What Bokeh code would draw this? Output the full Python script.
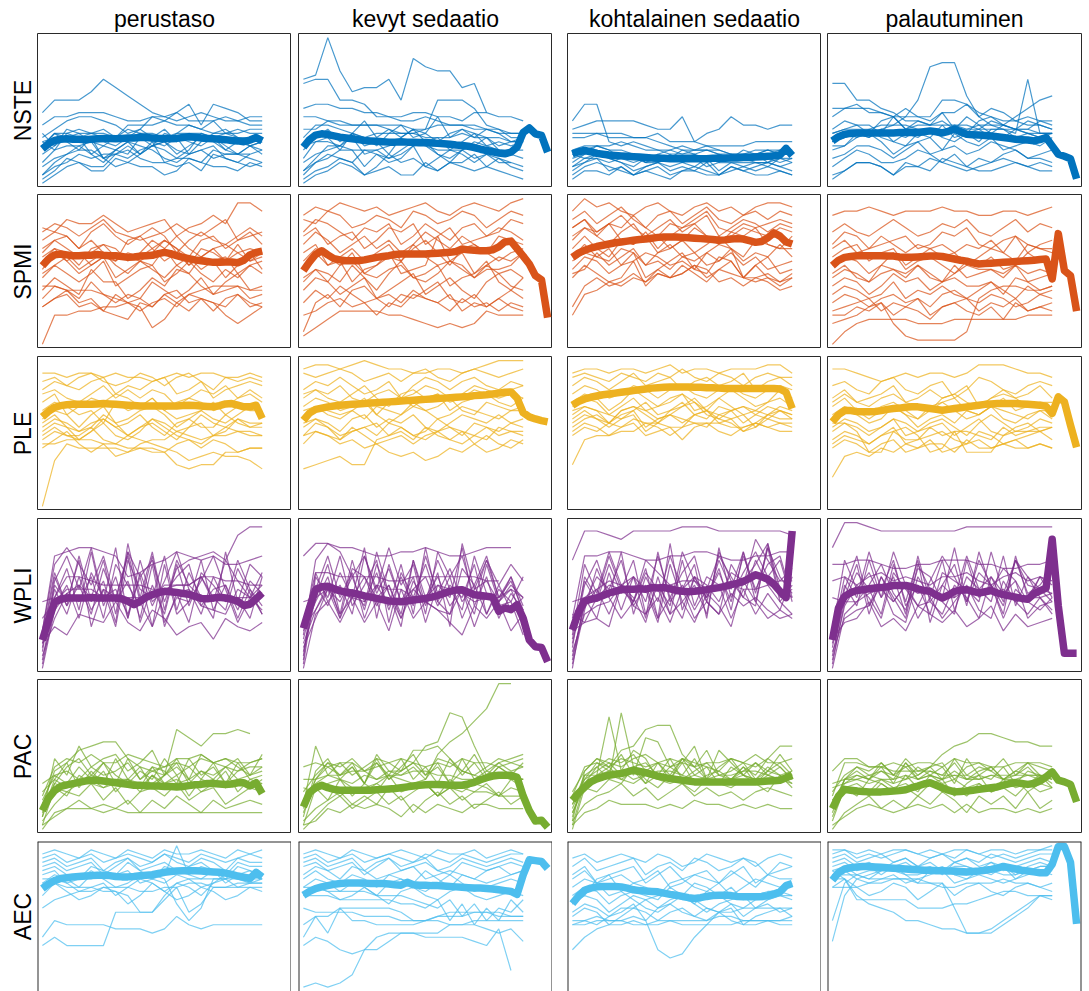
from bokeh.plotting import figure
from bokeh.layouts import gridplot
from bokeh.models import Range1d, Title, Span
from bokeh.embed import file_html
from bokeh.resources import INLINE

PHASES = ["perustaso", "kevyt sedaatio", "kohtalainen sedaatio", "palautuminen"]
MEASURES = ["NSTE", "SPMI", "PLE", "WPLI", "PAC", "AEC"]
COLORS = ["#0072BD", "#D95319", "#EDB120", "#7E2F8E", "#77AC30", "#4DBEEE"]

# Individual subject traces. One base-36 character per sample (0 = low, z = high),
# samples taken every second analysis window.
NSTE_SUBJECTS = [
    ["hkkkmpnljhgfghgffee", "egghhhgffgghjejihff", "bdfggfecdgfeedfgfgg", "9cbbaa9bcbaccbbbabb",
     "a8cb79bdca9b7acdb9a", "79bca98a79cba9b8a9a", "9ca8b6797a568cb9798", "5899a687b9a79ba8797",
     "4679758a98657896578", "1365447865545376545", "0245336544236544354", "2578864579866587765",
     "9ccdcbbaccbcedccdcc", "c9dcccbbdbdaccbccdd", "2457677689a8786777", "abbbcdbeeefhfffcbbb"],
    ["pqzrmnnpkusrrnoh", "oppkkjggffgfeeeddcc", "ijjiihhgghhggfhhggf", "beedcfbdbdcgbdcb9aa",
     "8bdacb9cebcacdbdcab", "6ab8c9a7bdab8ac9a9a", "3699b7868a97689b876", "2568847569a7586765",
     "1346524756435574643", "0235423422535434321", "ddfeeeedccdkkkiedbb", "9aa9cbccccbbbcbbbaa",
     "57898889a99888a9888", "3576587679468757554", "ggffeeeeeddeeeddccc"],
    ["fjja9a9889888777787", "deffffeddgacdgeedee", "bbcccbba98887778877", "8999a98877767677888",
     "6798675768756687577", "5786546575645767656", "4676534565463545465", "3563424534352434543",
     "2454323423432343432", "1332423213322432232", "7898875666787665566", "4577665545665555545",
     "cccbbbbcaaa9999aaaa", "7665656787898767877"],
    ["abccdegksttlgeeddcc", "ookkihffeeedddddccc", "iiiihggggkkjhgffeed", "cdddeeeddcddeedcpcc",
     "abcbdcbdcceedfegikl", "gijhhgigfhhjgihfgff", "dfeecgdfehdcfgedfed", "acbdba9cbebcaddbcba",
     "89bca79ab8ca9b89a9b", "6799868a78978a98678", "4687556875746578665", "2355425465434565454",
     "1355424436543345433", "99cbdacbdbacdbbdcbc", "cdecfgdeefdgeceddfe"],
]
SPMI_SUBJECTS = [
    ["sruttvtrstuqstvtyyw", "rtsqsurqpqrtrqsupqr", "prqnrtqoqsqmprpoqsq", "mpqnpmkpqnpnlpqnpro",
     "knmjnollkmpnjnmkokm", "imkhjlgikjnjhlkgjmi", "gjhfhkegijfhkhfigjh", "dgeciffbdgeihecfhde",
     "bedbfcacbfdbdgcdebc", "9bdab8cab9cdab8bc9a", "0778899a8ab9cba9ca9", "eedddcba946acdeeedd",
     "9bc9a876a9ca8ba7579", "hjlikmjhkigjliklhjk", "npnlmonkmpnqnlnomnm", "lnkmjlkmlnkmjlnkmkl"],
    ["vxwyxwxvwxywvxyxwyz", "utwvstvuswvtuwvsuwv", "rutrpsrtoqtrpstqrut", "orpmoqnpmorpnqomqpo",
     "mojlnkmoknpmjnomkmn", "imjkfijmhijqkjgiijm", "fihfjgdhkghjeghkfdg", "dgfcegbdfhcegdbfhed",
     "adbecab9cbdfbac9bdb", "78ab9a7a9cba8b9a8a9", "2468888776545458777", "3ac9debcadbac8a9b98",
     "gifjkhgijgfhkigjhig", "knljmhjlkoljkmhjlkm", "qsoqrnpsrtoqsopqsrp"],
    ["wzxywvxywvxywxvxyyx", "uwtvxusvwtvxutvwuwv", "suqtvsqsurtvqsutrts", "psqortpqnpsqorqsonq",
     "nqnlpoqmnpmoqnlponn", "lolknmjmolkmonkmlol", "ilkhjmgikmihlkgjlhi", "gjhfgkehgjhfikgghfh",
     "7cdfegfhghjgihgjgfg", "9egefhfighjifgegfde", "himjlnjkilmjkmjlijk", "kmlnjkmljkimkngfgeg",
     "qsrtpornqstqpqsrqsr", "surtsvsqtsuwsrtstut"],
    ["vwwxwvwwwxwwvvwwvwx", "rtrqsusqrtsurqsurts", "orqnopqnorqsonpqmop", "lnokmnjlnomjlnmkonm",
     "jlkhjmikljhkjlijmkj", "hjgfhigjhfjghihjfgh", "egfcehfgdfgeefcgfde", "cedbcfbdcecbdfdbecd",
     "acb9bcab9cdbacb9acb", "89ab8a9b79ab8a9b89a", "0356666555666666777", "5679a5211113bdeedde",
     "7798a79869a8796a898", "gihfjihjgfhjiigjhih", "npmnqomonlmonpmqonn"],
]
PLE_SUBJECTS = [
    ["wwvwwvwvvuvwvwwvvwv", "uvtvwutuwvtvwusvuvu", "sutsuvrtsuvrsuqstut", "rsqprtqsqsroqsrtqsq",
     "prmoqprqoqnpqpnoqrp", "npomnkpnoqnlmnpmonn", "lnmjmoklnomjlnlkmom", "kmjikljkmjhkljjmkjk",
     "ikjgiljhjkigjkhiljj", "0bfeeeedfggihghhiih", "gihhjgfhgfedbcdccb9", "egifdfcdeddfgegfdee",
     "hjhgikhgiljhgfhjihh", "jlkijmkhjlkijmkjlkk", "ffgggffeeeda9aaddee"],
    ["xyyxyzyxxwwxxwxyzzz", "wvwxwuvwuwxvuwxwvwx", "sutvtrsuqtvusuvtsut", "qsrtqprsqrtsqrtsrst",
     "oqpnoqmpqoqrnpqrpoq", "lonmnlonmpnoqnmpono", "jlkilmjlkmjikmlkmkl", "hkjgijhkjhiljhkjikj",
     "fihgjhfghfhigfhjhih", "9abcaaghjhgijihgjii", "hihfgefdcdbcedfdegf", "kljhijkhigjhgifhfeg",
     "nomlnpmkmonlmonmlnn", "rsqprtqorsqrpqsrqrq"],
    ["wxxwxxwxywxxwxxxyyw", "vwvuwvuwvxvuwvtvwvv", "tvusuwtuvsuvtuwsuvt", "rtsqrtsqstrqstrqsts",
     "prqnpsqoqrpnqsqopsq", "oqpmoqnoprnoqomnpqo", "monknomknpmlonkmonm", "kmljlmikmlkjmlikmll",
     "ikjhjkhijgjkihjkjii", "aghhiikkjjkkkjjkjkk", "hjikjlkjhjmnlkijlkj", "lnlkmnjlmkmnklmjmnm",
     "nonmlnpmnoqnmnonmon", "jlmknonlmopmlnomlnl"],
    ["xxwvuvwvwwvwyyyxwwv", "tusruvsrtuqsvusrtut", "qspqrtpqsqrtoqsqrtq", "oqnmopnlopqnmoqnopn",
     "lnmklomjlmknmolkmnl", "ikjhjlhijkhjlihjkij", "gihfhjfghigfihfghig", "egfdfgdeffdgeefgefe",
     "7cdcedfegdefgefeefe", "kkiddijhdeidddhiijj", "fhgfhiggjhiihgjhiij", "monlnomlnpnlmonmlnn",
     "jlkijlkikljhkmkijlk", "prpoqrponqrpoqrqopp"],
]
WPLI_SUBJECTS = [
    ["9ptpkrgsmqgoqrsqwyy", "5kgqajhrbkdpfmheoid", "2hoesfmcqgjibnkgqjf", "7mfkhqdsgaimpfjkeli",
     "0eigmcpkfrbhgqedjhk", "4lrjtgtcnflsjdmghcm", "6jdmejaqjhrenhcsgpm", "3cikdoglcpaijfekcjd",
     "8nfrglbuhseqkmgqlhn", "1fkcnhjdmapdglrjbhe", "9rsttsrmnpqsrqrppqr", "cgjjjhhhhhkkkhhhhhh",
     "6a8dcbgb9ec8ab7ca9b", "ghmmlkkkkjjkkmmllkk"],
    ["8qusmrjtkpdsmrhqkpl", "4hpdqgnemfriogkdjgm", "1kfnhtcpgmbkhtfmcie", "6ejcomhkdqfnaujlgkh",
     "2mhrfkqbnhpgdokrhmd", "9gmcjfsiaqhmfjdpgjc", "5cjgmepiclgqjerigmf", "3ngkdriogjmfkhpdkeh",
     "7jrhnckfpdtgmcjqhle", "0dgbhmfkcjgedjaifg8", "ruuttsrrsstsrrsttt", "aekdhbg9jcgeb8fcg9d",
     "bnnmmmmllmmmmmmll", "ghjihgkjjhhkjighhjh"],
    ["qxxwvxxxxyyyxxxxxxw", "6kqhsdmgrjpcthnsmqg", "2gmjqfkchnrgdpkvqlo", "8piskgocuemgqjsgtmi",
     "4dfgkmgrhcmhoesitgk", "0hcnemjbpgkdslhfuhj", "5mhrjqdkfslhngrjprh", "1eohcgnjdqfmkcjdiem",
     "7lgpimcsgkejrmhqkgd", "3fjdkhbmdgbifalgcec", "crrssrqqrrssrqqrrss", "9bhkjgqnkjmkgnlpujh",
     "dbcakfdhbjcgdifhecd", "ghjlkjjkklljkkjjkll"],
    ["tzzyxxxxxxxyyyyyyyy", "5kfqhmdrgkpfsjolgmh", "1gnjdpgqbkhrjmgqiko", "8mhsjqfkdnljgsiqkjg",
     "3hpdmgkchqemjgrfmhd", "0dgkpieomgdqhkcjgeh", "6jrfmhcpjhtgnkfqmji", "2fkhcnjfgdkhcmilcfg",
     "9qjnhskflrmgqkdrhmk", "4cefkdbmhcgkeclgdhe", "ppqqpooppqqqppooppq", "hggijgkijhhjiijghhi",
     "7bcgac9fdbeacf9dabc", "lmkmnlmlkmmnlkmnlml"],
]
PAC_SUBJECTS = [
    ["9cabdcccbbdomknnon", "6egjkllhfefgfhgfeff", "3hdkfhiegjdhcighfdi", "5bfhdgbhcfebhdfbgcd",
     "1a8dbe9cafbd8cbe9cb", "4cgaebhcfadgbecfhdf", "2698b7a69a8b79a68a9", "0457565747586475676",
     "7dbfcgdbechdfcgbegh", "8fhgiggihgfhhighggh", "3bacbacbadbcabcabac", "1355545444444444444",
     "6a9bcabc9dabc9bacab", "bdecfdegcedfcedfcde"],
    ["a9bcaabdcbcilnqtzz", "7bdcbdceegklsrkedcc", "6kdgdfhgejjkhedfhgf", "3ehcfbgdhcfbhdgcfdg",
     "1a7c8b9d9ab8ca9b8ca", "4cgdfbhcegdfbhceghi", "0368579684796857968", "5cfdgbiedfcgbedcfdc",
     "9dgfhegcfidhgeidgef", "2579686a79b8a799888", "ccddeecddeeddccddcc", "6aa8a9b9aab8a9ba8a9",
     "1254656536465466555", "fgfggefghgfgfhggfgh"],
    ["4adrejhcfdhcbfdcegd", "6bfcsfgdhcegdcfdhfc", "2ehfjkoppifjdegcfde", "5cgeidmlfgkcfhdgeie",
     "0a9cbfcadb9cbacb9db", "3dfhgiegdhfcjgdbeda", "1bdfcebdcgbdecfbdcd", "7cegdfbgchdfbcegdfc",
     "8fgfhgfghgfgghgfhkk", "4bcdcbdcbcdcbcdcbcb", "2689b8a79b8a8979a98", "1457666565766565655",
     "9ehgfhigfhgfehgiggh", "6ddeecdeedccddeedcd"],
    ["abcbcbcdfiklnnmllkk", "ehhffeeeedddcdddddd", "7bdcgdfcedgcefcdfcd", "4cecfbgcdfbhdcfbedb",
     "2a8cb9dabc8bd9ac9ba", "5cfdecgdfchdfecegdc", "0468575869748685957", "9dfegdhefgcfgehdgfe",
     "3ab9cab9dbcab9cabda", "6ccdccdcdcdccdccddc", "1356545656464554545", "8ggffgfggfhggffgggf",
     "bcdcedcfdcecdfcedcd", "79a8b9a8b9a8b9a8b9a"],
]
AEC_SUBJECTS = [
    ["bdbbbbjjjjnqrrrrrrr", "dhggggfffefigfggggg", "kmnoopppooppqqppqqq", "xyxwyxwyxwyxxyxwyxy",
     "wxvwxvwxwvxwvxwvwxw", "vwuvwtvwuvxvuwvtwvv", "uvtuvsuwtuvtuvtsvuu", "tusrutsvtrutsutruts",
     "stqrtrstqrszsrtqstr", "qsrpsrpqsrqsrpqsrqr", "prqopqnprqoqpnqrpqq", "nqomnpolnqomnpomnpo",
     "qqpppoonjjmpjlppppp", "rrsrrsrrrsrlhkrrsss"],
    ["12124adeeeddddcbf5", "bdca9aaceeeegggfefc", "giikkkkkjhhijjjjiii", "diekhhgggghhgghhhhh",
     "kjjjjiiihhhiiijjjii", "nnnmmmmmllkmhlgkhmj", "ppoooonnnmlkmilhkjm", "xyxwyxwxyxwyxxywxyx",
     "wxvwxvwxwvxwvxwvwxx", "vwuvwtvwuvwtuwvuvwv", "uvtuvsuwtuvtsvutuvu", "sutrutrsturstsrtust",
     "rtrqsrpsrqtrpsrqrst", "prqoqpnqrpoqsqopqrq", "npomnpnlopnmopnmnon"],
    ["ghihhiha89dgjjkkkkk", "adfgghghhhhhiihhhhh", "gghhhggghggggghhhgg", "wxvwxwvxwuvxwvwuwxw",
     "uwtuvwsuvtwvtuwvsvu", "suqstuqsurstqsuqstu", "rtqrsqrtpqsrqtrpsrr", "prqnoqpnqrpoqnprqpq",
     "npolnonmpnlonpmnoon", "lnmjlnmkmnljlmnkmnm", "jlkijlhkljikjlikljk", "ikjgikjhjkihjkgijki",
     "lnrsomkjlnqpnlkmmnn", "hhgikkmnnmmkjhgghhi"],
    ["sssrrrrrqqkeeegiknn", "trnlkjhhgffeefhjlnn", "rrmmmmmkkkllmnoonnm", "pppqqrrqqppqqqrqqpq",
     "yyxyxyyxyxyyxyyxyyz", "xywxwxyxwxwyxwxwxyy", "wxvwxvwuwxvwvxwvwxx", "vwuvtvwuvtvwuvtuvwv",
     "uvtusuvtusvutvusuvu", "tusrtusqtusrtsurtuu", "strqrsqrstqrsrqrsts", "cnrsttuuttuuttuutuu",
     "hqstttssttssttssttt", "prpnoqpmoqnpqonpqpo"],
]

# Group means, one value per analysis window.
NSTE_MEAN = [
    [8.3, 9.5, 10.3, 10.6, 10.7, 10.6, 10.6, 10.5, 10.6, 10.7, 10.8, 10.8, 10.7, 10.8, 10.9, 10.9, 11.0, 11.0, 10.9,
     10.8, 10.8, 10.7, 10.8, 11.0, 11.2, 11.1, 10.9, 10.8, 10.7, 10.6, 10.5, 10.3, 10.2, 10.0, 10.4, 11.0, 10.2],
    [8.7, 10.5, 11.6, 11.9, 11.7, 11.4, 11.1, 10.9, 10.7, 10.5, 10.3, 10.2, 10.1, 10.0, 9.9, 9.9, 10.0, 9.9, 9.9,
     9.8, 9.8, 9.7, 9.6, 9.5, 9.4, 9.2, 9.1, 8.9, 8.6, 8.2, 7.9, 7.6, 7.3, 7.1, 7.5, 8.7, 12.2, 13.3, 11.9, 11.5, 7.5],
    [7.1, 7.6, 7.9, 7.6, 7.2, 7.0, 6.8, 6.7, 6.6, 6.5, 6.4, 6.3, 6.2, 6.1, 6.0, 6.0, 5.9, 5.9, 5.9, 5.9, 5.9, 5.9,
     5.9, 6.0, 6.0, 6.0, 6.1, 6.1, 6.2, 6.2, 6.3, 6.4, 6.5, 6.6, 6.8, 8.4, 6.7],
    [10.2, 11.2, 11.8, 12.0, 12.1, 12.1, 12.1, 12.1, 12.1, 12.1, 12.1, 12.2, 12.2, 12.3, 12.2, 12.4, 12.6, 12.4, 12.1,
     12.5, 13.0, 12.4, 11.8, 11.7, 11.6, 11.5, 11.4, 11.2, 11.0, 10.8, 10.6, 10.5, 10.4, 10.2, 10.5, 11.0, 9.0, 7.0,
     6.5, 5.9, 1.1],
]
SPMI_MEAN = [
    [18.9, 20.5, 21.5, 21.7, 21.5, 21.3, 21.3, 21.4, 21.4, 21.6, 21.4, 21.3, 21.3, 21.1, 20.9, 21.0, 21.2, 21.3, 21.4,
     21.8, 22.1, 21.8, 21.3, 20.9, 20.6, 20.3, 20.1, 19.9, 19.7, 19.7, 19.8, 19.8, 19.6, 20.2, 21.5, 22.1, 22.4],
    [17.7, 19.8, 21.6, 22.5, 21.5, 20.6, 20.3, 20.1, 20.1, 20.1, 20.3, 20.6, 20.9, 21.1, 21.3, 21.6, 21.7, 21.7, 21.7,
     21.7, 21.7, 21.8, 21.9, 22.0, 22.1, 22.3, 22.9, 22.7, 22.6, 22.5, 22.5, 22.7, 23.4, 24.6, 24.8, 23.0, 21.2, 19.3,
     16.5, 15.5, 6.4],
    [20.9, 21.9, 22.6, 23.1, 23.5, 23.8, 24.1, 24.4, 24.6, 24.8, 25.0, 25.2, 25.3, 25.5, 25.7, 25.8, 25.8, 25.8, 25.7,
     25.6, 25.5, 25.4, 25.3, 25.2, 25.0, 25.1, 25.3, 25.4, 25.3, 24.9, 24.5, 24.7, 25.6, 26.8, 26.0, 24.6, 24.1],
    [18.9, 20.2, 20.9, 21.1, 21.3, 21.3, 21.3, 21.3, 21.3, 21.2, 21.2, 21.0, 20.9, 20.9, 21.0, 21.1, 21.2, 21.2, 21.1,
     20.8, 20.5, 20.2, 20.0, 19.6, 19.3, 19.4, 19.5, 19.6, 19.7, 19.8, 19.9, 20.0, 20.1, 20.2, 20.4, 20.5, 15.7, 26.6,
     17.7, 16.5, 8.0],
]
PLE_MEAN = [
    [21.5, 22.8, 23.8, 24.2, 24.4, 24.5, 24.5, 24.5, 24.5, 24.6, 24.7, 24.6, 24.5, 24.4, 24.3, 24.2, 24.1, 24.1, 24.1,
     24.1, 24.1, 24.1, 24.1, 24.2, 24.3, 24.2, 24.1, 24.0, 23.9, 24.2, 24.6, 24.7, 24.3, 23.9, 23.9, 24.3, 21.1],
    [20.7, 22.4, 23.3, 23.6, 23.9, 24.1, 24.3, 24.4, 24.5, 24.6, 24.7, 24.8, 24.9, 25.0, 25.1, 25.2, 25.3, 25.4, 25.5,
     25.6, 25.7, 25.8, 25.9, 26.0, 26.1, 26.2, 26.3, 26.4, 26.6, 26.7, 26.8, 27.0, 27.2, 27.4, 27.5, 26.0, 22.5, 21.5,
     21.0, 20.6, 20.3],
    [24.3, 25.2, 25.8, 26.2, 26.5, 26.8, 27.0, 27.2, 27.4, 27.6, 27.8, 28.0, 28.2, 28.4, 28.5, 28.6, 28.7, 28.7, 28.7,
     28.7, 28.6, 28.6, 28.5, 28.5, 28.4, 28.3, 28.3, 28.3, 28.3, 28.3, 28.3, 28.3, 28.3, 28.3, 28.2, 27.4, 23.5],
    [20.3, 22.0, 23.0, 23.0, 22.8, 22.7, 22.7, 22.8, 23.0, 23.3, 23.5, 23.6, 23.8, 23.9, 23.9, 23.7, 23.5, 23.3, 23.1,
     23.3, 23.5, 23.7, 23.9, 24.1, 24.3, 24.5, 24.6, 24.7, 24.7, 24.7, 24.7, 24.6, 24.5, 24.4, 24.3, 24.0, 22.3, 26.3,
     25.1, 19.5, 14.2],
]
WPLI_MEAN = [
    [6.8, 11.5, 15.9, 16.6, 16.9, 16.9, 16.9, 16.9, 17.0, 16.9, 16.9, 16.9, 16.9, 16.7, 16.1, 15.3, 16.1, 17.1, 17.7,
     18.2, 18.5, 18.4, 18.2, 18.0, 17.8, 17.3, 16.8, 16.7, 16.9, 17.1, 16.9, 16.6, 16.1, 15.1, 15.4, 16.7, 18.1],
    [9.6, 14.5, 18.9, 19.6, 19.7, 19.1, 18.6, 18.3, 18.1, 17.8, 17.4, 17.1, 16.8, 16.5, 16.2, 16.1, 16.0, 16.2, 16.4,
     16.6, 16.8, 17.1, 17.5, 18.0, 18.5, 18.8, 18.9, 18.3, 17.7, 17.5, 17.3, 17.1, 13.7, 14.5, 14.1, 15.3, 12.0, 6.8,
     5.2, 5.0, 1.6],
    [9.2, 13.5, 16.1, 16.6, 16.9, 17.5, 18.1, 18.5, 18.9, 19.0, 19.0, 19.1, 19.0, 19.4, 19.3, 19.4, 19.1, 18.7, 18.5,
     18.4, 18.5, 18.7, 18.9, 19.2, 19.4, 19.7, 20.1, 20.4, 20.9, 21.6, 22.5, 22.0, 21.4, 20.2, 18.5, 17.0, 33.0],
    [6.8, 14.5, 17.3, 18.2, 18.7, 18.9, 19.1, 19.3, 19.4, 19.6, 19.9, 19.9, 19.9, 19.6, 19.1, 18.7, 18.5, 17.6, 16.9,
     17.6, 18.5, 18.8, 18.9, 18.5, 18.1, 18.4, 18.7, 18.1, 17.7, 17.4, 17.1, 16.8, 16.6, 17.9, 18.6, 19.3, 31.0, 15.0,
     3.6, 3.6, 3.6],
]
PAC_MEAN = [
    [4.5, 7.5, 9.3, 10.3, 10.7, 11.0, 11.3, 11.6, 11.8, 11.8, 11.6, 11.4, 11.2, 11.0, 10.8, 10.6, 10.6, 10.5, 10.4,
     10.4, 10.3, 10.3, 10.2, 10.3, 10.5, 10.7, 10.8, 11.0, 11.0, 10.9, 10.8, 10.9, 11.2, 11.2, 10.4, 11.2, 8.6],
    [5.4, 8.8, 10.0, 10.6, 10.0, 9.6, 9.4, 9.4, 9.4, 9.4, 9.4, 9.4, 9.5, 9.6, 9.7, 9.8, 10.0, 10.2, 10.4, 10.6, 10.7,
     10.8, 10.8, 10.7, 10.6, 10.6, 10.6, 10.9, 11.3, 11.9, 12.4, 12.8, 13.0, 13.0, 13.0, 12.5, 8.0, 4.5, 2.0, 2.2, 0.5],
    [7.0, 8.7, 10.1, 11.4, 12.1, 12.6, 13.0, 13.2, 13.4, 13.8, 14.2, 13.9, 13.6, 13.2, 12.8, 12.5, 12.2, 12.0, 11.8,
     11.6, 11.4, 11.4, 11.4, 11.4, 11.4, 11.4, 11.4, 11.4, 11.4, 11.4, 11.4, 11.5, 11.6, 11.7, 11.8, 12.4, 13.0],
    [5.0, 8.0, 9.6, 9.4, 9.2, 9.1, 9.0, 9.0, 9.0, 9.1, 9.2, 9.3, 9.5, 10.0, 10.4, 10.9, 11.2, 10.6, 10.0, 9.4, 9.0,
     9.1, 9.2, 9.4, 9.6, 9.8, 10.0, 10.2, 10.6, 11.0, 11.2, 11.0, 10.8, 11.0, 11.6, 12.6, 13.8, 11.8, 11.4, 10.8, 6.6],
]
AEC_MEAN = [
    [24.7, 25.8, 26.6, 27.1, 27.3, 27.5, 27.6, 27.7, 27.8, 27.9, 27.9, 27.8, 27.6, 27.5, 27.5, 27.6, 27.8, 27.9, 28.0,
     28.3, 28.6, 28.8, 28.9, 29.0, 29.0, 29.0, 28.9, 28.8, 28.7, 28.6, 28.4, 28.1, 27.7, 27.4, 27.1, 28.6, 27.5],
    [23.1, 24.0, 24.7, 25.1, 25.4, 25.7, 25.9, 26.0, 26.0, 26.0, 26.0, 25.9, 25.9, 25.9, 25.8, 25.6, 25.5, 26.2, 25.6,
     25.5, 25.5, 25.4, 25.4, 25.3, 25.2, 25.1, 25.0, 24.9, 24.8, 24.8, 24.7, 24.6, 24.4, 24.2, 24.0, 23.3, 28.0, 31.6,
     31.4, 31.2, 29.5],
    [21.1, 22.9, 24.3, 24.8, 25.1, 25.2, 25.2, 25.2, 25.1, 24.8, 24.4, 24.2, 24.1, 24.0, 23.9, 23.6, 23.3, 23.1, 22.8,
     22.5, 22.3, 22.5, 22.8, 23.0, 23.1, 23.1, 23.0, 22.8, 22.7, 22.7, 22.7, 22.8, 23.0, 23.4, 23.9, 25.4, 25.9],
    [26.7, 28.5, 29.4, 29.7, 29.9, 30.0, 30.0, 29.9, 29.8, 29.7, 29.6, 29.5, 29.4, 29.3, 29.2, 29.1, 29.1, 29.0, 29.0,
     28.9, 28.9, 28.8, 28.7, 28.8, 28.9, 29.1, 29.3, 29.6, 30.0, 29.7, 29.4, 29.1, 28.9, 28.7, 28.5, 28.5, 30.5, 34.8,
     34.8, 31.0, 16.2],
]

SUBJECTS = [NSTE_SUBJECTS, SPMI_SUBJECTS, PLE_SUBJECTS, WPLI_SUBJECTS, PAC_SUBJECTS, AEC_SUBJECTS]
MEANS = [NSTE_MEAN, SPMI_MEAN, PLE_MEAN, WPLI_MEAN, PAC_MEAN, AEC_MEAN]

FONT = "Liberation Sans"
FRAME_COLOR = "#2a2a2a"
FRAME_W = 254
LEFT_PAD = [37, 7, 15, 6]
RIGHT_PAD = [0, 0, 0, 8]
TOP_PAD = [33, 7, 8, 8, 7, 8]
FRAME_H = [154, 154, 154, 154, 154, 150]
X_LO, X_HI = -0.8, 40.8
Y_TOP = 36.0
UNITS_PER_PX = 37.0 / 154.0


def decode(trace):
    return [int(ch, 36) for ch in trace]


rows = []
last = len(MEASURES) - 1
for r, measure in enumerate(MEASURES):
    color = COLORS[r]
    row = []
    for c, phase in enumerate(PHASES):
        y_bottom = Y_TOP - FRAME_H[r] * UNITS_PER_PX
        p = figure(
            frame_width=FRAME_W, frame_height=FRAME_H[r],
            x_range=Range1d(X_LO, X_HI), y_range=Range1d(y_bottom, Y_TOP),
            x_axis_location=None, y_axis_location=None,
            toolbar_location=None, output_backend="svg",
            title=None,
            min_border_left=LEFT_PAD[c], min_border_right=RIGHT_PAD[c],
            min_border_top=TOP_PAD[r], min_border_bottom=0,
            outline_line_color=FRAME_COLOR if r != last else None,
            outline_line_width=1,
            background_fill_color="white", border_fill_color="white",
        )
        p.xgrid.grid_line_color = None
        p.ygrid.grid_line_color = None

        if r == last:
            # bottom row runs past the page edge: box drawn without its lower side
            for loc, dim in ((X_LO, "height"), (X_HI, "height"), (Y_TOP, "width")):
                p.add_layout(Span(location=loc, dimension=dim,
                                  line_color=FRAME_COLOR, line_width=2))

        if r == 0:
            p.add_layout(Title(text=phase, align="center", text_font=FONT,
                               text_font_size="23px", text_font_style="normal",
                               text_color="black", standoff=3), "above")
        if c == 0:
            p.add_layout(Title(text=measure, align="center", text_font=FONT,
                               text_font_size="23px", text_font_style="normal",
                               text_color="black", standoff=4), "left")

        for trace in SUBJECTS[r][c]:
            ys = decode(trace)
            xs = [2 * i for i in range(len(ys))]
            p.line(xs, ys, line_color=color, line_width=1.2, line_alpha=0.72)

        mean = MEANS[r][c]
        p.line(list(range(len(mean))), mean, line_color=color, line_width=7.5,
               line_join="round")
        row.append(p)
    rows.append(row)

grid = gridplot(rows, toolbar_location=None)

with open("out.html", "w") as f:
    f.write(file_html(grid, INLINE))
